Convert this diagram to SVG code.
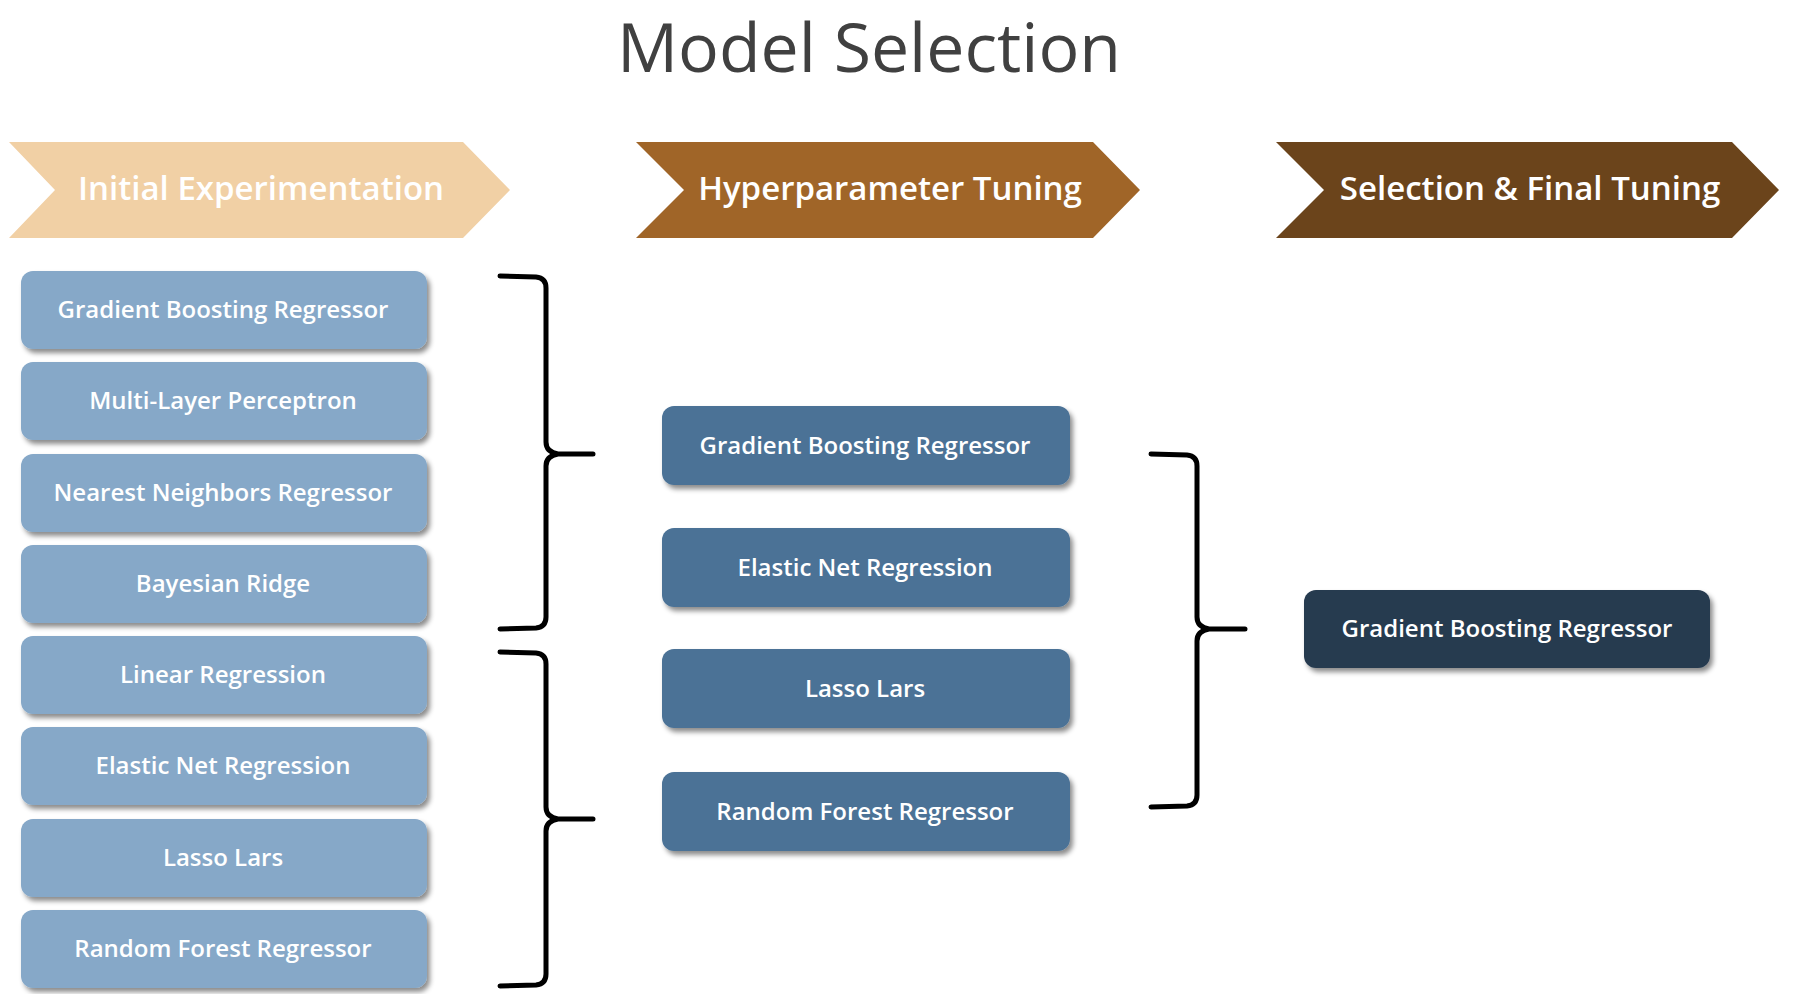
<svg xmlns="http://www.w3.org/2000/svg" width="1794" height="994" viewBox="0 0 1794 994">
<style>
text{font-family:"Open Sans","Noto Sans","Liberation Sans",sans-serif;fill:#fff;text-anchor:middle}
.title{fill:#404040;font-size:68px}
.head{font-size:33px;font-weight:600}
.lbl{font-size:24px;font-weight:600}
.b1{fill:#86A8C8}
.b2{fill:#4B7296}
.b3{fill:#263A4F}
.br{fill:none;stroke:#000;stroke-width:5;stroke-linecap:round;stroke-linejoin:round}
</style>
<defs>
<filter id="sh" x="-5%" y="-10%" width="115%" height="135%">
<feDropShadow dx="3" dy="4" stdDeviation="2.5" flood-color="#000" flood-opacity="0.45"/>
</filter>
</defs>
<rect width="1794" height="994" fill="#fff"/>
<text class="title" x="869" y="72">Model Selection</text>

<g id="stage1"><polygon points="9,142 463,142 510,190 463,238 9,238 55,190" fill="#F1D0A5"/><text class="head" x="261" y="200">Initial Experimentation</text></g>
<g id="stage2"><polygon points="636,142 1093,142 1140,190 1093,238 636,238 684,190" fill="#A06528"/><text class="head" x="890" y="200">Hyperparameter Tuning</text></g>
<g id="stage3"><polygon points="1276,142 1732,142 1779,190 1732,238 1276,238 1324,190" fill="#6B441B"/><text class="head" x="1530" y="200">Selection &amp; Final Tuning</text></g>

<g id="l1"><rect class="b1" x="21" y="271" width="406" height="78" rx="12" filter="url(#sh)"/><text class="lbl" x="223" y="318">Gradient Boosting Regressor</text></g>
<g id="l2"><rect class="b1" x="21" y="362" width="406" height="78" rx="12" filter="url(#sh)"/><text class="lbl" x="223" y="409">Multi-Layer Perceptron</text></g>
<g id="l3"><rect class="b1" x="21" y="454" width="406" height="78" rx="12" filter="url(#sh)"/><text class="lbl" x="223" y="501">Nearest Neighbors Regressor</text></g>
<g id="l4"><rect class="b1" x="21" y="545" width="406" height="78" rx="12" filter="url(#sh)"/><text class="lbl" x="223" y="592">Bayesian Ridge</text></g>
<g id="l5"><rect class="b1" x="21" y="636" width="406" height="78" rx="12" filter="url(#sh)"/><text class="lbl" x="223" y="683">Linear Regression</text></g>
<g id="l6"><rect class="b1" x="21" y="727" width="406" height="78" rx="12" filter="url(#sh)"/><text class="lbl" x="223" y="774">Elastic Net Regression</text></g>
<g id="l7"><rect class="b1" x="21" y="819" width="406" height="78" rx="12" filter="url(#sh)"/><text class="lbl" x="223" y="866">Lasso Lars</text></g>
<g id="l8"><rect class="b1" x="21" y="910" width="406" height="78" rx="12" filter="url(#sh)"/><text class="lbl" x="223" y="957">Random Forest Regressor</text></g>

<g id="m1"><rect class="b2" x="662" y="406" width="408" height="79" rx="12" filter="url(#sh)"/><text class="lbl" x="865" y="454">Gradient Boosting Regressor</text></g>
<g id="m2"><rect class="b2" x="662" y="528" width="408" height="79" rx="12" filter="url(#sh)"/><text class="lbl" x="865" y="576">Elastic Net Regression</text></g>
<g id="m3"><rect class="b2" x="662" y="649" width="408" height="79" rx="12" filter="url(#sh)"/><text class="lbl" x="865" y="697">Lasso Lars</text></g>
<g id="m4"><rect class="b2" x="662" y="772" width="408" height="79" rx="12" filter="url(#sh)"/><text class="lbl" x="865" y="820">Random Forest Regressor</text></g>

<g id="final"><rect class="b3" x="1304" y="590" width="406" height="78" rx="12" filter="url(#sh)"/><text class="lbl" x="1507" y="637">Gradient Boosting Regressor</text></g>

<g id="connectors">
<path class="br" d="M500,276 L536,277 Q546,278 546,288 L546,442 Q546,452 558,454 L593,454 M558,454 Q546,456 546,466 L546,617 Q546,627 536,628 L500,629"/>
<path class="br" d="M500,652 L536,653 Q546,654 546,664 L546,807 Q546,817 558,819 L593,819 M558,819 Q546,821 546,831 L546,974 Q546,984 536,985 L500,986"/>
<path class="br" d="M1151,454 L1187,455 Q1197,456 1197,466 L1197,617 Q1197,627 1209,629 L1245,629 M1209,629 Q1197,631 1197,641 L1197,795 Q1197,805 1187,806 L1151,807"/>
</g>
</svg>
